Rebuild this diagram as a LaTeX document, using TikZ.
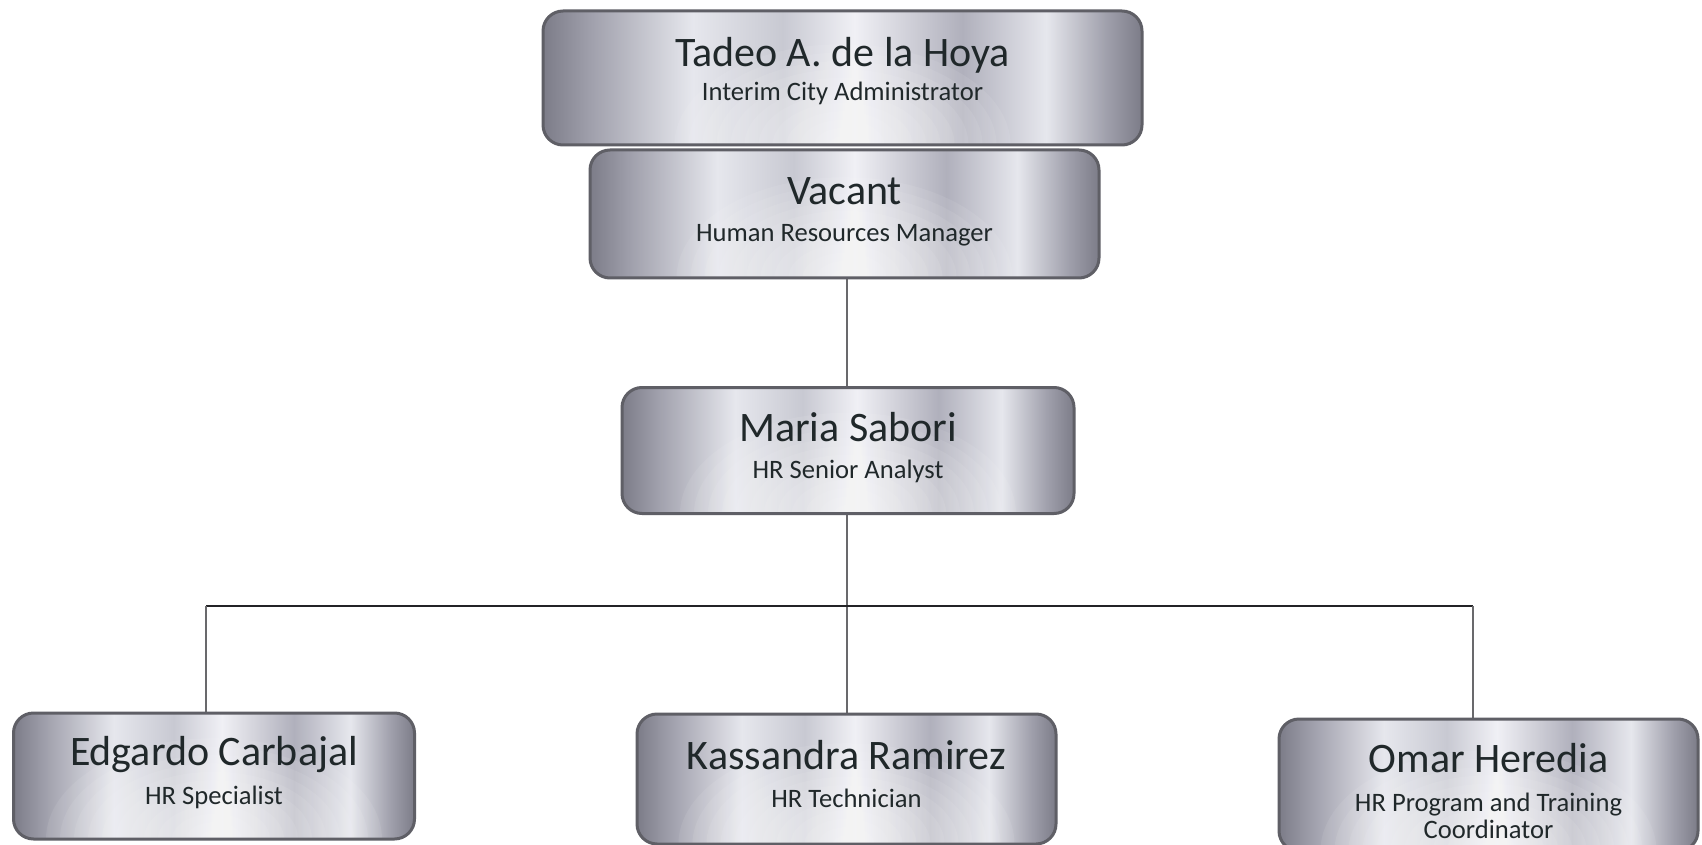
\documentclass[tikz,border=0pt]{standalone}
\usepackage{fontspec}
\setmainfont{Carlito}
\usetikzlibrary{calc}

\definecolor{cardedge}{RGB}{95,95,102}
\definecolor{mA}{RGB}{124,124,136}
\definecolor{mB}{RGB}{160,160,172}
\definecolor{mL}{RGB}{230,231,237}
\definecolor{mM}{RGB}{200,201,210}
\definecolor{mW}{RGB}{240,240,245}
\definecolor{mD}{RGB}{176,176,188}
\definecolor{inkc}{RGB}{32,40,42}
\definecolor{wire}{RGB}{105,105,108}
\definecolor{bus}{RGB}{35,35,38}

% brushed-metal look of the cards
\pgfdeclarehorizontalshading{metal}{100bp}{
  color(0bp)=(mA); color(25bp)=(mA); color(29bp)=(mB);
  color(37.5bp)=(mL); color(45bp)=(mM); color(51bp)=(mW);
  color(60bp)=(mD); color(67bp)=(mL); color(72bp)=(mB);
  color(75bp)=(mA); color(100bp)=(mA)}

\tikzset{
  card/.style={draw=cardedge, line width=1.5pt, rounded corners=10pt,
    shade, shading=metal, inner sep=0pt,
    path picture={
      % soft white glow rising from the lower middle
      \foreach \k in {1,...,12}
        \fill[white, opacity=0.08]
          (path picture bounding box.south) ellipse [x radius=\k*7pt, y radius=\k*4.2pt];}},
  nm/.style={anchor=base, text=inkc, font=\fontsize{21}{25}\selectfont, inner sep=0pt},
  role/.style={anchor=base, text=inkc, font=\fontsize{13.3}{16}\selectfont, inner sep=0pt},
  vline/.style={draw=wire, line width=1.4pt},
  hline/.style={draw=bus, line width=1pt}
}

\begin{document}
\begin{tikzpicture}[x=0.5pt,y=-0.5pt]
\useasboundingbox (0,0) rectangle (1702,845);
\fill[white] (0,0) rectangle (1702,845);
\clip (0,0) rectangle (1702,845);

% reference points for the connectors
\coordinate (busL) at (206,606);
\coordinate (busR) at (1473,606);
\coordinate (vacS) at (847,278);
\coordinate (marN) at (847,388);
\coordinate (marS) at (847,513);
\coordinate (kasT) at (847,714);

% connectors first, so the cards cover their ends
\draw[vline] (vacS) -- (marN);
\draw[vline] (marS) -- (kasT);
\draw[hline] (busL) -- (busR);
\draw[vline] (busL) -- ++(0,107);
\draw[vline] (busR) -- ++(0,113);

% cards
\node[card, minimum width=299.5pt, minimum height=67pt] (top) at (842.5,78) {};
\node[card, minimum width=254.5pt, minimum height=64pt] (vac) at (844.5,214) {};
\node[card, minimum width=226pt, minimum height=63pt] (maria) at (848,450.5) {};
\node[card, minimum width=200.5pt, minimum height=63pt] (edg) at (214,776) {};
\node[card, minimum width=209.5pt, minimum height=65pt] (kas) at (846.5,779) {};
\node[card, minimum width=209.5pt, minimum height=66pt] (omar) at (1488.5,785) {};

% names and titles
\node[nm]   (topN)  at ($(top.north)+(0,57)$) {Tadeo A. de la Hoya};
\node[role] (topR)  at ($(top.north)+(0,91)$) {Interim City Administrator};
\node[nm]   (vacN)  at ($(vac.north)+(0,56)$) {Vacant};
\node[role] (vacR)  at ($(vac.north)+(0,93)$) {Human Resources Manager};
\node[nm]   (marN2) at ($(maria.north)+(0,55)$) {Maria Sabori};
\node[role] (marR)  at ($(maria.north)+(0,92)$) {HR Senior Analyst};
\node[nm]   (edgN)  at ($(edg.north)+(0,54)$) {Edgardo Carbajal};
\node[role] (edgR)  at ($(edg.north)+(0,93)$) {HR Specialist};
\node[nm]   (kasN)  at ($(kas.north)+(0,57)$) {Kassandra Ramirez};
\node[role] (kasR)  at ($(kas.north)+(0,95)$) {HR Technician};
\node[nm]   (omaN)  at ($(omar.north)+(0,55)$) {Omar Heredia};
\node[role] (omaR)  at ($(omar.north)+(0,94)$) {HR Program and Training};
\node[role] (omaR2) at ($(omar.north)+(0,121)$) {Coordinator};
\end{tikzpicture}
\end{document}
